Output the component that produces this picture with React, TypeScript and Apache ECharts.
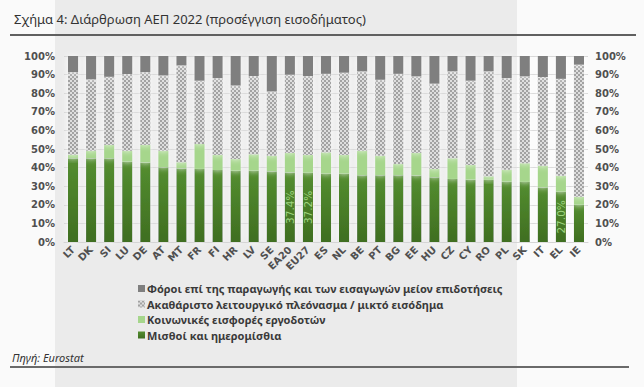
import React, { useEffect, useRef } from "react";
import * as echarts from "echarts";

const categories = ["LT","DK","SI","LU","DE","AT","MT","FR","FI","HR","LV","SE","EA20","EU27","ES","NL","BE","PT","BG","EE","HU","CZ","CY","RO","PL","SK","IT","EL","IE"];
const wages = [45.0,45.0,45.0,43.2,42.7,40.2,39.6,39.3,38.7,38.3,38.3,38.0,37.4,37.2,36.7,36.7,35.9,35.9,35.9,35.8,34.8,33.9,33.5,33.4,32.4,32.3,29.4,27.0,20.0];
const socialContrib = [2.0,4.1,7.2,5.9,9.5,8.9,3.3,13.4,8.1,6.3,8.9,8.4,10.5,9.6,11.5,10.1,13.2,10.5,6.0,12.1,4.5,11.1,7.9,1.9,6.5,10.1,11.6,8.6,4.3];
const surplus = [44.3,38.3,36.6,41.2,39.1,40.4,52.0,34.0,41.3,39.5,42.0,34.5,42.0,42.4,42.2,44.2,42.6,40.8,48.5,41.1,45.8,46.7,45.3,56.4,49.2,46.6,47.7,52.1,71.0];
const taxes = [8.7,12.6,11.2,9.7,8.7,10.5,5.1,13.3,11.9,15.9,10.8,19.1,10.1,10.8,9.6,9.0,8.3,12.8,9.6,11.0,14.9,8.3,13.3,8.3,11.9,11.0,11.3,12.3,4.7];
const yTicks = [0,10,20,30,40,50,60,70,80,90,100];
const labeledCats = ["EA20","EU27","EL"];

const seriesNames = [
  "Μισθοί και ημερομίσθια",
  "Κοινωνικές εισφορές εργοδοτών",
  "Ακαθάριστο λειτουργικό πλεόνασμα / μικτό εισόδημα",
  "Φόροι επί της παραγωγής και των εισαγωγών μείον επιδοτήσεις",
];

export default function App() {
  const ref = useRef<HTMLDivElement>(null);
  useEffect(() => {
    document.body.style.margin = "0";
    const chart = echarts.init(ref.current!, null, { renderer: "svg" });

    const cv = document.createElement("canvas");
    cv.width = 4; cv.height = 4;
    const ctx = cv.getContext("2d")!;
    ctx.fillStyle = "#dedede"; ctx.fillRect(0, 0, 4, 4);
    ctx.fillStyle = "#a2a2a2"; ctx.fillRect(0, 0, 2, 2); ctx.fillRect(2, 2, 2, 2);
    let patternColor: any = "#bcbcbc";
    try { patternColor = { image: cv.toDataURL(), repeat: "repeat" }; } catch (e) {}

    const font = "DejaVu Sans";
    const shadow = { shadowColor: "rgba(255,255,255,0.9)", shadowBlur: 6 };
    const barW = "56%";

    const wagesData = wages.map((v, i) => {
      const show = labeledCats.includes(categories[i]);
      return show ? { value: v, label: { show: true } } : { value: v };
    });

    chart.setOption({
      animation: false,
      backgroundColor: "#fafafa",
      textStyle: { fontFamily: font },
      graphic: [
        { type: "rect", z: -100, shape: { x: 55, y: 0, width: 462, height: 387 }, style: { fill: "#ebebeb" } },
        { type: "text", x: 14, y: 12, style: { text: "Σχήμα 4: Διάρθρωση ΑΕΠ 2022 (προσέγγιση εισοδήματος)", fill: "#333333", font: "13px 'Noto Sans'" } },
        { type: "rect", shape: { x: 10, y: 34, width: 626, height: 2 }, style: { fill: "#606060" } },
        { type: "text", x: 12, y: 352, style: { text: "Πηγή: Eurostat", fill: "#333333", font: "italic 11px 'Noto Sans'" } },
        { type: "rect", shape: { x: 10, y: 366, width: 619, height: 2 }, style: { fill: "#6a6a6a" } },
      ],
      legend: {
        orient: "vertical",
        left: 133,
        top: 278,
        itemWidth: 7,
        itemHeight: 7,
        itemGap: 4.5,
        icon: "rect",
        data: [seriesNames[3], seriesNames[2], seriesNames[1], seriesNames[0]],
        textStyle: { fontFamily: "Noto Sans", fontSize: 11, fontWeight: "bold", color: "#3a3a3a", padding: [0, 0, 0, -3] },
      },
      grid: { left: 64, right: 56, top: 56, bottom: 145 },
      xAxis: {
        type: "category",
        data: categories,
        axisTick: { show: false },
        axisLine: { lineStyle: { color: "#d0d0d0" } },
        axisLabel: { rotate: 45, fontSize: 10, fontWeight: "bold", color: "#505050", margin: 6, interval: 0, fontFamily: font },
      },
      yAxis: [
        {
          type: "value", min: 0, max: 100, interval: 10,
          axisLabel: { formatter: "{value}%", fontSize: 10, fontWeight: "bold", color: "#505050", margin: 9, fontFamily: font },
          splitLine: { lineStyle: { color: "#d2d2d2" } },
          axisLine: { show: false }, axisTick: { show: false },
        },
        {
          type: "value", min: 0, max: 100, interval: 10, position: "right",
          axisLabel: { formatter: "{value}%", fontSize: 10, fontWeight: "bold", color: "#505050", margin: 7, fontFamily: font },
          splitLine: { show: false },
          axisLine: { show: false }, axisTick: { show: false },
        },
      ],
      series: [
        {
          name: seriesNames[0], type: "bar", stack: "t", barWidth: barW,
          data: wagesData,
          itemStyle: {
            color: new echarts.graphic.LinearGradient(0, 0, 0, 1, [
              { offset: 0, color: "#548e30" },
              { offset: 1, color: "#3f6e21" },
            ]),
            ...shadow,
          },
          label: {
            show: false, position: "inside", rotate: 90, color: "#9ed47f", fontSize: 10.5, fontFamily: font,
            formatter: (p: any) => p.value.toFixed(1) + "%",
          },
          emphasis: { disabled: true },
        },
        {
          name: seriesNames[1], type: "bar", stack: "t", barWidth: barW,
          data: socialContrib,
          itemStyle: { color: "#a6d68c", ...shadow },
        },
        {
          name: seriesNames[2], type: "bar", stack: "t", barWidth: barW,
          data: surplus,
          itemStyle: { color: patternColor, ...shadow },
        },
        {
          name: seriesNames[3], type: "bar", stack: "t", barWidth: barW,
          data: taxes,
          itemStyle: { color: "#7f7f7f", ...shadow },
        },
      ],
    });
    return () => chart.dispose();
  }, []);
  return <div ref={ref} style={{ position: "fixed", left: 0, top: 0, width: 644, height: 387 }} />;
}
